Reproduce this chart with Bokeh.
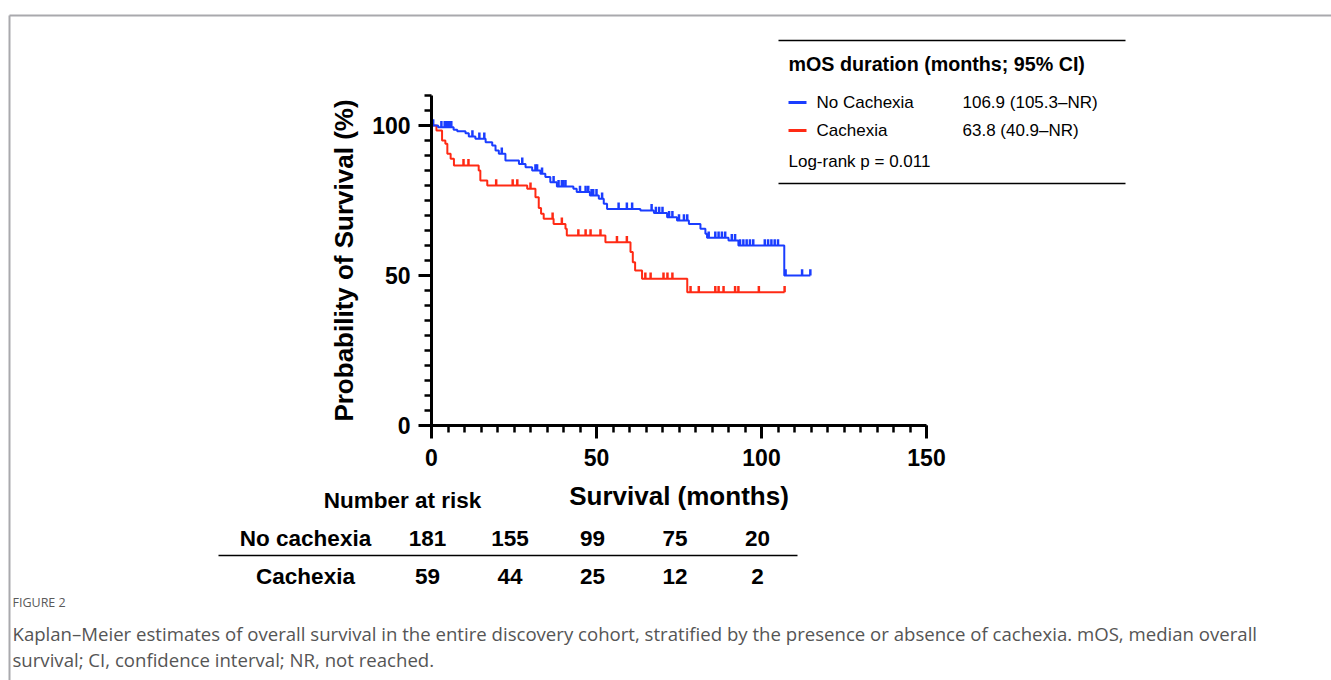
import numpy as np
from bokeh.plotting import figure
from bokeh.models import SingleIntervalTicker
from bokeh.core.properties import value
from bokeh.embed import file_html
from bokeh.resources import INLINE

# ---------------- data ----------------
no_cach_t = [0, 2, 6.7, 7.8, 10.3, 11.3, 13.3, 16.4, 18.4, 19.4, 20.4, 22.4, 26.5, 28.5,
             30.5, 33, 34.5, 36, 38, 43, 44, 48, 50.7, 52.2, 53.2, 63.3, 67.4, 71.4,
             74.4, 78, 81.5, 83, 83.5, 90, 93, 106.9]
no_cach_s = [100, 99.4, 98.6, 98.1, 97.4, 96.3, 95.6, 94.4, 93.3, 91.7, 90.6, 88.3, 87.2, 86.1,
             85.0, 83.9, 82.8, 81.1, 79.7, 78.9, 77.8, 76.7, 75.6, 73.9, 72.2, 71.7, 70.8, 69.4,
             68.3, 67.2, 65.6, 63.9, 62.6, 61.7, 60.0, 50.0]
no_cach_end = 114.8
no_cach_cens = [0.5, 3, 4, 4.5, 5, 5.5, 6, 12.4, 14.5, 16, 21.3, 27.5, 31.5, 32, 33.5, 37,
                38.5, 39.5, 40, 40.6, 45, 46.7, 47.5, 48.5, 49, 50, 51.7, 56.7, 59.2, 60.8,
                66.7, 68, 69, 70, 72, 73, 75, 76.5, 77.5, 84, 86, 87, 88, 89, 91, 92, 93.5,
                94.5, 95.5, 96.5, 97.5, 101, 102, 103, 104, 105, 107.3, 112.3, 114.8]

cach_t = [0, 1.5, 3.2, 4.2, 4.8, 5.8, 6.8, 14.3, 14.8, 16.9, 29, 31.5, 32.5, 33.2, 34,
          37, 40.6, 41, 52.7, 60.3, 61, 61.7, 63.8, 77.5]
cach_s = [100, 98.3, 95.0, 93.9, 90.6, 88.9, 86.7, 85.0, 81.7, 80.0, 78.9, 76.1, 72.5, 70.6, 68.9,
          67.2, 65.6, 63.3, 61.1, 57.8, 54.4, 51.7, 48.9, 44.4]
cach_end = 107.0
cach_cens = [9.7, 11.2, 19.6, 24.6, 26, 30, 36.7, 39.5, 44.5, 46.7, 48.2, 51.2, 56.2, 59.2,
             64.8, 66.4, 70.3, 71.5, 73, 78.5, 81, 86, 87, 88.5, 92, 93, 99.2, 107.0]

risk_times = [0, 25, 50, 75, 100]
risk_no_cach = [181, 155, 99, 75, 20]
risk_cach = [59, 44, 25, 12, 2]

BLUE = "#1a3dff"
RED = "#ff2a14"
FONT = "Liberation Sans"

# ---------------- figure ----------------
W, H = 1331, 680
p = figure(width=W, height=H, x_range=(0, 150), y_range=(0, 110),
           output_backend="svg", toolbar_location=None,
           min_border_left=431, min_border_right=W - 926,
           min_border_top=95, min_border_bottom=H - 425)
p.grid.visible = False
p.outline_line_color = None
p.background_fill_color = "white"
p.border_fill_color = "white"

for ax, lab in ((p.xaxis[0], "Survival (months)"), (p.yaxis[0], "Probability of Survival (%)")):
    ax.ticker = SingleIntervalTicker(interval=50, num_minor_ticks=10)
    ax.axis_label = lab
    ax.axis_line_width = 3
    ax.major_tick_line_width = 3
    ax.minor_tick_line_width = 2.5
    ax.major_tick_out = 13
    ax.major_tick_in = 0
    ax.minor_tick_out = 7
    ax.minor_tick_in = 0
    ax.major_label_text_font = FONT
    ax.major_label_text_font_style = "bold"
    ax.major_label_text_font_size = "23px"
    ax.major_label_text_color = "black"
    ax.axis_label_text_font = FONT
    ax.axis_label_text_font_style = "bold"
    ax.axis_label_text_font_size = "26px"
    ax.axis_label_text_color = "black"
    ax.axis_line_color = "black"
    ax.major_tick_line_color = "black"
    ax.minor_tick_line_color = "black"
p.xaxis[0].major_label_standoff = 10
p.xaxis[0].axis_label_standoff = 12
p.yaxis[0].major_label_standoff = 8
p.yaxis[0].axis_label_standoff = 10


def step_value(ts, ss, x):
    i = np.searchsorted(np.asarray(ts), x, side="right") - 1
    return np.asarray(ss)[i]


for ts, ss, end, cens, col in ((cach_t, cach_s, cach_end, cach_cens, RED),
                                (no_cach_t, no_cach_s, no_cach_end, no_cach_cens, BLUE)):
    xs = list(ts) + [end]
    ys = list(ss) + [ss[-1]]
    p.step(xs, ys, mode="after", line_color=col, line_width=2)
    cv = step_value(ts, ss, np.asarray(cens))
    p.segment(x0=cens, y0=cv, x1=cens, y1=cv + 2.1, line_color=col, line_width=2.5)


# ---------------- decorations (page-pixel helpers) ----------------
def X(px):
    return (px - 431) / 3.3


def Y(py):
    return (425 - py) / 3.0


def text(t, px, py, size, bold=False, align="left", color="black", font=FONT):
    p.text(x=[X(px)], y=[Y(py)], text=[t], text_font=value(font),
           text_font_size=value(f"{size}px"),
           text_font_style="bold" if bold else "normal",
           text_align=align, text_baseline="middle", text_color=color, level="overlay")


def rule(x0, y0, x1, y1, color="black", width=1.0):
    p.segment(x0=[X(x0)], y0=[Y(y0)], x1=[X(x1)], y1=[Y(y1)],
              line_color=color, line_width=width, level="overlay")


# outer frame
rule(9, 15, 1331, 15, color="#a9a9ad", width=2)
rule(9, 15, 9, 680, color="#a9a9ad", width=2)

# legend box
rule(778, 40, 1125, 40, width=1.3)
rule(778, 183, 1125, 183, width=1.3)
text("mOS duration (months; 95% CI)", 788, 63, 19.7, bold=True)
rule(788, 102, 806, 102, color=BLUE, width=3)
rule(788, 130, 806, 130, color=RED, width=3)
text("No Cachexia", 816, 102, 17)
text("Cachexia", 816, 130, 17)
text("106.9 (105.3–NR)", 962, 102, 17)
text("63.8 (40.9–NR)", 962, 130, 17)
text("Log-rank p = 0.011", 788, 161, 17)

# risk table
text("Number at risk", 402, 500, 22.5, bold=True, align="center")
text("No cachexia", 305, 538, 22.5, bold=True, align="center")
text("Cachexia", 305, 576, 22.5, bold=True, align="center")
rule(218, 555, 797, 555, width=1.5)
p.text(x=risk_times, y=[Y(538)] * len(risk_times), text=[str(v) for v in risk_no_cach],
       x_offset=-4, text_font=value(FONT), text_font_size=value("22.5px"),
       text_font_style="bold", text_align="center", text_baseline="middle", level="overlay")
p.text(x=risk_times, y=[Y(576)] * len(risk_times), text=[str(v) for v in risk_cach],
       x_offset=-4, text_font=value(FONT), text_font_size=value("22.5px"),
       text_font_style="bold", text_align="center", text_baseline="middle", level="overlay")

# caption
text("FIGURE 2", 12, 602, 12.5, color="#5a5a5a", font="Open Sans")
text("Kaplan–Meier estimates of overall survival in the entire discovery cohort, stratified by the "
     "presence or absence of cachexia. mOS, median overall", 12, 633, 18.6, color="#555555",
     font="Open Sans")
text("survival; CI, confidence interval; NR, not reached.", 12, 659, 18.6, color="#555555",
     font="Open Sans")

open("out.html", "w").write(file_html(p, INLINE))
